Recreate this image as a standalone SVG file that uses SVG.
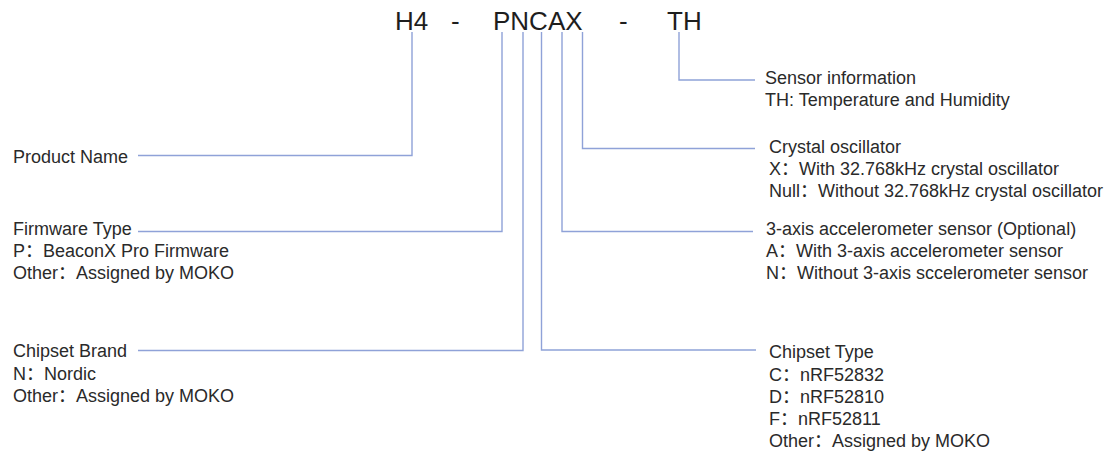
<svg xmlns="http://www.w3.org/2000/svg" width="1116" height="454" viewBox="0 0 1116 454">
<style>
text{font-family:"Liberation Sans","Noto Sans CJK SC",Arial,sans-serif;font-size:18px;fill:#2a2a2a}
.title{font-size:26px;fill:#1e1e1e}
.ln{fill:none;stroke:#8fa2d8;stroke-width:1.4}
</style>
<rect width="1116" height="454" fill="#ffffff"/>
<g id="title">
<text class="title"><tspan x="395" y="30">H4</tspan><tspan x="451" y="30">-</tspan><tspan x="493" y="30">PNCAX</tspan><tspan x="619" y="30">-</tspan><tspan x="667" y="30">TH</tspan></text>
</g>
<g id="connectors">
<path class="ln" d="M412,32 V155.5 H138"/>
<path class="ln" d="M502,32 V231.5 H138"/>
<path class="ln" d="M523,32 V350.5 H138"/>
<path class="ln" d="M541.5,32 V350 H756"/>
<path class="ln" d="M562,32 V231.5 H753"/>
<path class="ln" d="M582.5,32 V148.5 H755"/>
<path class="ln" d="M679,32 V80 H755"/>
</g>
<g id="product-name">
<text x="13" y="163">Product Name</text>
</g>
<g id="firmware-type">
<text x="13" y="235">Firmware Type</text>
<text x="13" y="257">P：BeaconX Pro Firmware</text>
<text x="13" y="279">Other：Assigned by MOKO</text>
</g>
<g id="chipset-brand">
<text x="13" y="357">Chipset Brand</text>
<text x="13" y="379.5">N：Nordic</text>
<text x="13" y="401.5">Other：Assigned by MOKO</text>
</g>
<g id="sensor-info">
<text x="765" y="84">Sensor information</text>
<text x="765" y="106">TH: Temperature and Humidity</text>
</g>
<g id="crystal">
<text x="769" y="153">Crystal oscillator</text>
<text x="769" y="175">X：With 32.768kHz crystal oscillator</text>
<text x="769" y="197">Null：Without 32.768kHz crystal oscillator</text>
</g>
<g id="accelerometer">
<text x="766" y="235">3-axis accelerometer sensor (Optional)</text>
<text x="766" y="257">A：With 3-axis accelerometer sensor</text>
<text x="766" y="279">N：Without 3-axis sccelerometer sensor</text>
</g>
<g id="chipset-type">
<text x="769" y="358">Chipset Type</text>
<text x="769" y="380.5">C：nRF52832</text>
<text x="769" y="402.5">D：nRF52810</text>
<text x="769" y="425">F：nRF52811</text>
<text x="769" y="447">Other：Assigned by MOKO</text>
</g>
</svg>
